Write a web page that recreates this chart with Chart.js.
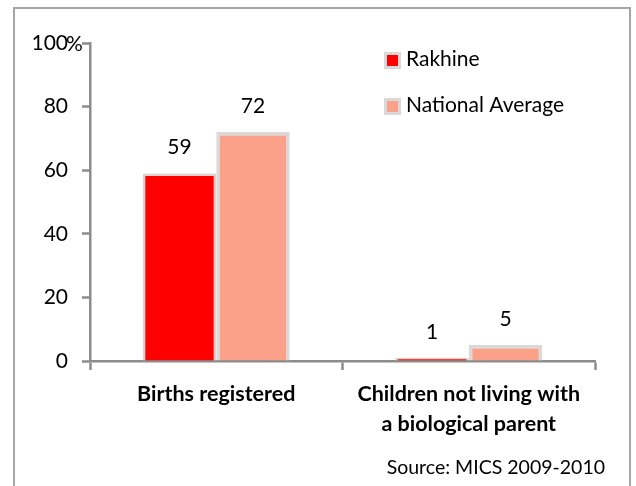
<!DOCTYPE html>
<html>
<head>
<meta charset="utf-8">
<script src="https://cdn.jsdelivr.net/npm/chart.js@4.4.1/dist/chart.umd.min.js"></script>
<style>
  html, body { margin: 0; padding: 0; background: #ffffff; }
  #wrap { width: 636px; height: 486px; position: relative; }
</style>
</head>
<body>
<div id="wrap"><canvas id="chart" width="636" height="486"></canvas></div>
<script>
// Indicators and values (percent)
const categories = [
  'Births registered',
  ['Children not living with', 'a biological parent']
];
const seriesNames = ['Rakhine', 'National Average'];
const rakhineValues = [59, 1];
const nationalValues = [72, 5];
const yTicks = [0, 20, 40, 60, 80, 100];
const sourceNote = 'Source: MICS 2009-2010';

const FONT = 'Lato, "Open Sans", sans-serif';
const AXIS_GREY = '#8c8c8c';

// Outer frame around the figure
const framePlugin = {
  id: 'frame',
  beforeDraw(chart) {
    const ctx = chart.ctx;
    ctx.save();
    ctx.fillStyle = '#ffffff';
    ctx.fillRect(0, 0, chart.width, chart.height);
    ctx.strokeStyle = '#a6a6a6';
    ctx.lineWidth = 2;
    ctx.strokeRect(14, 8, 616, 600);
    ctx.restore();
  }
};

// Value labels above each bar, legend, percent sign and source line
const annotatePlugin = {
  id: 'annotate',
  afterDatasetsDraw(chart) {
    const ctx = chart.ctx;
    ctx.save();
    ctx.fillStyle = '#000000';
    ctx.font = '21px ' + FONT;
    ctx.textAlign = 'center';
    ctx.textBaseline = 'alphabetic';
    chart.data.datasets.forEach((ds, i) => {
      const meta = chart.getDatasetMeta(i);
      meta.data.forEach((bar, j) => {
        ctx.fillText(String(ds.data[j]), bar.x, bar.y - 19);
      });
    });

    // percent sign next to the top tick
    const y = chart.scales.y;
    ctx.textAlign = 'left';
    ctx.textBaseline = 'middle';
    ctx.fillText('%', 66, y.getPixelForValue(100) + 1);

    // legend
    const legendX = 384, legendY = [60, 106];
    chart.data.datasets.forEach((ds, i) => {
      const cy = legendY[i];
      ctx.fillStyle = '#d9d9d9';
      ctx.fillRect(legendX, cy - 8, 17, 17);
      ctx.fillStyle = ds.backgroundColor;
      ctx.fillRect(legendX + 3, cy - 5, 11, 11);
      ctx.fillStyle = '#000000';
      ctx.font = '21px ' + FONT;
      ctx.textAlign = 'left';
      ctx.textBaseline = 'middle';
      ctx.fillText(ds.label, legendX + 22, cy - 1);
    });

    // source line
    ctx.font = '19.5px ' + FONT;
    ctx.textAlign = 'right';
    ctx.textBaseline = 'middle';
    ctx.fillText(sourceNote, 605, 468);
    ctx.restore();
  }
};

new Chart(document.getElementById('chart'), {
  type: 'bar',
  data: {
    labels: categories,
    datasets: [
      {
        label: seriesNames[0],
        data: rakhineValues,
        backgroundColor: '#ff0000',
        borderColor: '#d9d0d0',
        borderWidth: 2.5,
        borderSkipped: 'bottom'
      },
      {
        label: seriesNames[1],
        data: nationalValues,
        backgroundColor: '#fca189',
        borderColor: '#d9d9d9',
        borderWidth: 3.5,
        borderSkipped: 'bottom'
      }
    ]
  },
  options: {
    responsive: false,
    animation: false,
    devicePixelRatio: 1,
    layout: { padding: { left: 0, top: 43, right: 41, bottom: 0 } },
    categoryPercentage: 0.582,
    barPercentage: 1,
    plugins: {
      legend: { display: false },
      tooltip: { enabled: false }
    },
    scales: {
      y: {
        min: 0,
        max: 100,
        afterFit(scale) { scale.width = 90; },
        afterBuildTicks(scale) { scale.ticks = yTicks.map(v => ({ value: v })); },
        border: { display: true, color: AXIS_GREY, width: 2.5 },
        grid: {
          drawOnChartArea: false,
          drawTicks: true,
          tickLength: 8,
          tickWidth: 2.5,
          tickColor: AXIS_GREY
        },
        ticks: {
          padding: 14,
          color: '#000000',
          font: { family: FONT, size: 21 }
        }
      },
      x: {
        afterFit(scale) { scale.height = 125; },
        border: { display: true, color: AXIS_GREY, width: 2.5 },
        grid: {
          drawOnChartArea: false,
          drawTicks: true,
          tickLength: 9,
          tickWidth: 2.5,
          tickColor: AXIS_GREY,
          offset: true
        },
        ticks: {
          padding: 9,
          color: '#000000',
          maxRotation: 0,
          font: { family: FONT, size: 21.5, weight: 'bold', lineHeight: 1.4 }
        }
      }
    }
  },
  plugins: [framePlugin, annotatePlugin]
});
</script>
</body>
</html>
